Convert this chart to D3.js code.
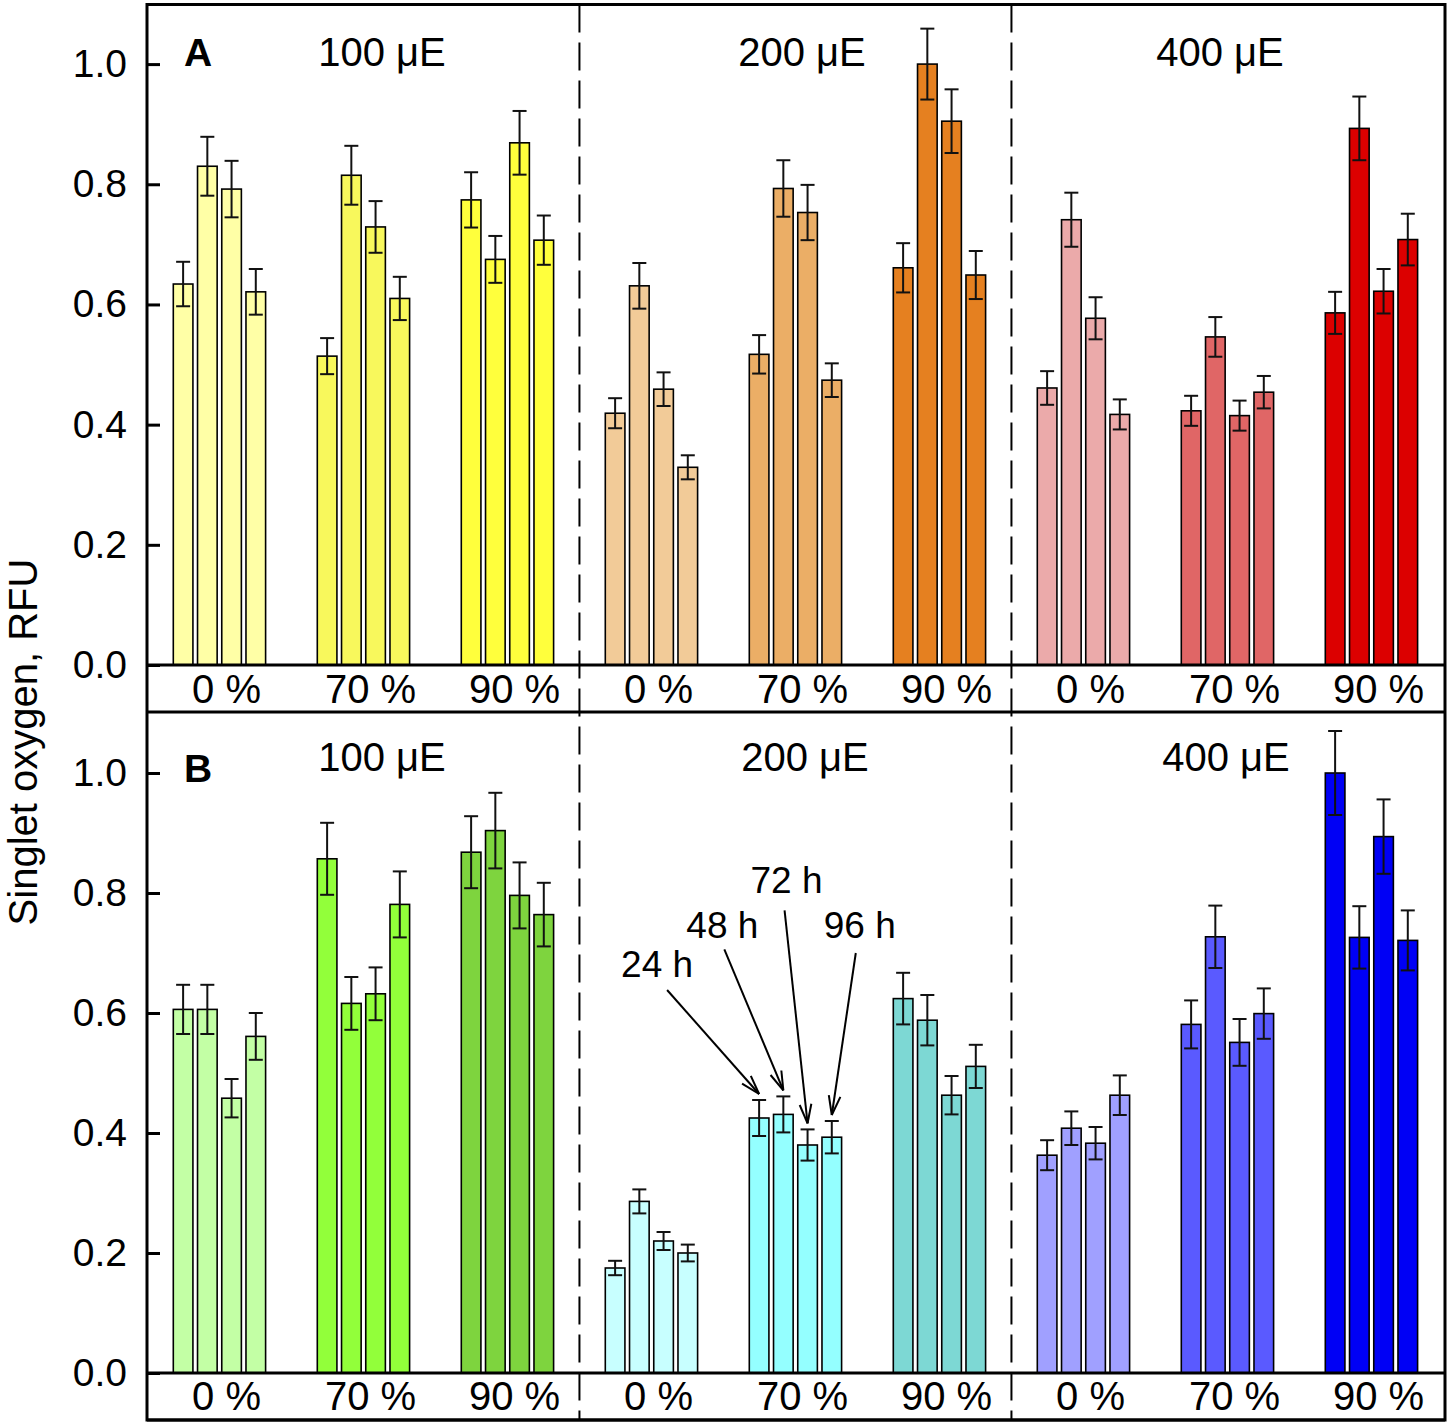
<!DOCTYPE html>
<html>
<head>
<meta charset="utf-8">
<script src="https://cdn.jsdelivr.net/npm/d3@7/dist/d3.min.js"></script>
<style>
  html, body { margin: 0; padding: 0; background: #fff; }
  svg { display: block; font-family: "Liberation Sans", Arial, sans-serif; }
</style>
</head>
<body>
<svg id="chart" width="1450" height="1426"></svg>
<script>
// ---------------- DATA ----------------
const lightLevels = ["100 μE", "200 μE", "400 μE"];
const shadeLevels = ["0 %", "70 %", "90 %"];
const times = ["24 h", "48 h", "72 h", "96 h"];
const yTicks = [0.0, 0.2, 0.4, 0.6, 0.8, 1.0];

// Panel A: 9 groups (light x shade), 4 bars each (24,48,72,96 h)
const valuesA = [
  [0.634, 0.830, 0.792, 0.621],
  [0.514, 0.815, 0.729, 0.610],
  [0.774, 0.675, 0.869, 0.707],
  [0.419, 0.631, 0.459, 0.329],
  [0.517, 0.793, 0.753, 0.474],
  [0.661, 1.000, 0.905, 0.649],
  [0.461, 0.741, 0.577, 0.417],
  [0.423, 0.546, 0.415, 0.454],
  [0.586, 0.893, 0.622, 0.708]
];
const errorsA = [
  [0.037, 0.049, 0.047, 0.038],
  [0.030, 0.049, 0.043, 0.036],
  [0.046, 0.039, 0.053, 0.041],
  [0.025, 0.038, 0.028, 0.020],
  [0.032, 0.047, 0.046, 0.028],
  [0.041, 0.059, 0.053, 0.040],
  [0.028, 0.045, 0.035, 0.025],
  [0.025, 0.033, 0.025, 0.027],
  [0.035, 0.053, 0.037, 0.043]
];
// Panel B
const valuesB = [
  [0.606, 0.606, 0.458, 0.561],
  [0.857, 0.616, 0.632, 0.781],
  [0.868, 0.904, 0.796, 0.764],
  [0.175, 0.286, 0.220, 0.200],
  [0.425, 0.431, 0.380, 0.393],
  [0.624, 0.588, 0.463, 0.511],
  [0.363, 0.408, 0.383, 0.463],
  [0.581, 0.727, 0.551, 0.599],
  [1.000, 0.726, 0.894, 0.721]
];
const errorsB = [
  [0.041, 0.041, 0.032, 0.039],
  [0.060, 0.044, 0.044, 0.055],
  [0.060, 0.063, 0.055, 0.053],
  [0.012, 0.020, 0.015, 0.014],
  [0.030, 0.030, 0.026, 0.027],
  [0.043, 0.042, 0.032, 0.036],
  [0.025, 0.028, 0.027, 0.033],
  [0.040, 0.052, 0.039, 0.042],
  [0.070, 0.052, 0.062, 0.050]
];
const colorsA = ["#FFFFA6", "#F8F85C", "#FFFF3C", "#F2CB98", "#EBAE66", "#E58020", "#EBAAAA", "#E06666", "#DC0000"];
const colorsB = ["#C3FFA5", "#92FF3A", "#7ED43E", "#C8FFFF", "#94FFFF", "#7DD8D4", "#A0A0FF", "#5A5AFF", "#0000F5"];

// annotation: arrows pointing at panel B, group 4 (200 μE, 70 %)
const annotGroup = 4;
const annotTail = [[-92, -104], [-59, -141], [-23, -213], [24, -162]];
const annotText = [[-10, -13], [-2, -11], [2, -17], [4, -15]];

// ---------------- LAYOUT ----------------
const L = 147, R = 1445, T = 4.5, B = 1420;
const svg = d3.select("#chart");

const groupIdx = d3.range(9);
const xg = d3.scaleLinear().domain([0, 8]).range([173.3, 1325.3]);
const xb = d3.scaleBand().domain(d3.range(4)).range([0, 92.3]).paddingInner(0.19);

const panels = [
  { key: "A", values: valuesA, errors: errorsA, colors: colorsA,
    y: d3.scaleLinear().domain([0, 1.1]).range([665, 4]),
    stripBottom: 712, headerX: [382, 802, 1220], headerY: 66, letterY: 66, labelY: 703 },
  { key: "B", values: valuesB, errors: errorsB, colors: colorsB,
    y: d3.scaleLinear().domain([0, 1.1]).range([1373, 713]),
    stripBottom: 1420, headerX: [382, 805, 1226], headerY: 771, letterY: 782, labelY: 1410 }
];

panels.forEach(p => {
  const g = svg.append("g");
  const y = p.y;
  const flat = [];
  p.values.forEach((vals, gi) => vals.forEach((v, bi) =>
    flat.push({ gi, bi, v, e: p.errors[gi][bi], c: p.colors[gi] })));

  // bars
  g.selectAll("rect.bar").data(flat).enter().append("rect")
    .attr("class", "bar")
    .attr("x", d => xg(d.gi) + xb(d.bi))
    .attr("width", xb.bandwidth())
    .attr("y", d => y(d.v))
    .attr("height", d => y(0) - y(d.v))
    .attr("fill", d => d.c)
    .attr("stroke", "#000")
    .attr("stroke-width", 1.6);

  // error bars
  const cx = d => xg(d.gi) + xb(d.bi) + xb.bandwidth() / 2;
  const eg = g.append("g").attr("stroke", "#111").attr("stroke-width", 2);
  eg.selectAll("line.v").data(flat).enter().append("line")
    .attr("x1", cx).attr("x2", cx)
    .attr("y1", d => y(d.v - d.e)).attr("y2", d => y(d.v + d.e));
  eg.selectAll("line.t").data(flat).enter().append("line")
    .attr("x1", d => cx(d) - 7).attr("x2", d => cx(d) + 7)
    .attr("y1", d => y(d.v + d.e)).attr("y2", d => y(d.v + d.e));
  eg.selectAll("line.b").data(flat).enter().append("line")
    .attr("x1", d => cx(d) - 7).attr("x2", d => cx(d) + 7)
    .attr("y1", d => y(d.v - d.e)).attr("y2", d => y(d.v - d.e));

  // y axis (inward ticks)
  const axis = d3.axisLeft(y).tickValues(yTicks).tickFormat(d3.format(".1f"))
    .tickSizeInner(-13).tickSizeOuter(0).tickPadding(20);
  const ag = g.append("g").attr("transform", `translate(${L},0)`).call(axis);
  ag.select(".domain").remove();
  ag.selectAll(".tick line").attr("stroke", "#000").attr("stroke-width", 3);
  ag.selectAll(".tick text").attr("font-size", 39).attr("fill", "#000")
    .attr("font-family", "Liberation Sans, Arial, sans-serif");

  // baseline + strip bottom
  g.append("line").attr("x1", L).attr("x2", R).attr("y1", y(0)).attr("y2", y(0))
    .attr("stroke", "#000").attr("stroke-width", 3);
  g.append("line").attr("x1", L).attr("x2", R).attr("y1", p.stripBottom).attr("y2", p.stripBottom)
    .attr("stroke", "#000").attr("stroke-width", 3);

  // group labels
  g.selectAll("text.glab").data(groupIdx).enter().append("text")
    .attr("x", i => xg(i) + 46.2 + 7)
    .attr("y", p.labelY)
    .attr("text-anchor", "middle")
    .attr("font-size", 40)
    .text(i => shadeLevels[i % 3]);

  // light headers
  g.selectAll("text.head").data(lightLevels).enter().append("text")
    .attr("x", (d, i) => p.headerX[i])
    .attr("y", p.headerY)
    .attr("text-anchor", "middle")
    .attr("font-size", 40)
    .text(d => d);

  // panel letter
  g.append("text").attr("x", 184).attr("y", p.letterY)
    .attr("font-size", 39).attr("font-weight", "bold").text(p.key);
});

// dashed separators
[1, 2].forEach(k => {
  const xs = (xg(3 * k - 1) + 92.3 + xg(3 * k)) / 2;
  svg.append("line").attr("x1", xs).attr("x2", xs).attr("y1", T).attr("y2", B)
    .attr("stroke", "#000").attr("stroke-width", 2).attr("stroke-dasharray", "28,10");
});

// frame
svg.append("rect").attr("x", L).attr("y", T).attr("width", R - L).attr("height", B - T)
  .attr("fill", "none").attr("stroke", "#000").attr("stroke-width", 3);

// y title
svg.append("text")
  .attr("transform", "translate(37,742) rotate(-90)")
  .attr("text-anchor", "middle")
  .attr("font-size", 40)
  .text("Singlet oxygen, RFU");

// annotations (panel B)
const yB = panels[1].y;
const ann = svg.append("g").attr("stroke", "#000").attr("stroke-width", 2).attr("fill", "none");
times.forEach((t, i) => {
  const tipX = xg(annotGroup) + xb(i) + xb.bandwidth() / 2;
  const tipY = yB(valuesB[annotGroup][i] + errorsB[annotGroup][i] + 0.01);
  const tx = tipX + annotTail[i][0], ty = tipY + annotTail[i][1];
  ann.append("line").attr("x1", tx).attr("y1", ty).attr("x2", tipX).attr("y2", tipY);
  const ang = Math.atan2(ty - tipY, tx - tipX);
  const len = 20, half = 17 * Math.PI / 180;
  [ang - half, ang + half].forEach(a => {
    ann.append("line").attr("x1", tipX).attr("y1", tipY)
      .attr("x2", tipX + len * Math.cos(a)).attr("y2", tipY + len * Math.sin(a));
  });
  svg.append("text")
    .attr("x", tx + annotText[i][0]).attr("y", ty + annotText[i][1])
    .attr("text-anchor", "middle").attr("font-size", 37).text(t);
});
</script>
</body>
</html>
